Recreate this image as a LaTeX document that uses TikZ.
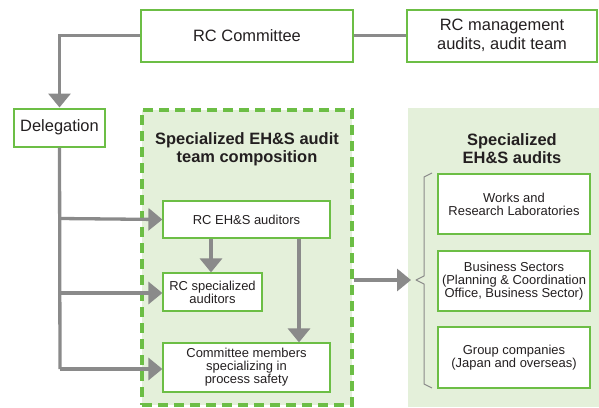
\documentclass[tikz,border=0pt]{standalone}
\usepackage{fontspec}
\setmainfont{Liberation Sans}
\usetikzlibrary{arrows.meta}
\definecolor{gbord}{RGB}{108,190,69}
\definecolor{gfill}{RGB}{228,240,218}
\definecolor{garr}{RGB}{138,138,138}
\definecolor{txt}{RGB}{35,31,32}
\tikzset{
  topbox/.style={draw=gbord, line width=2bp, fill=white, inner sep=0pt, align=center, text=txt,
    font=\fontsize{16.5}{19}\selectfont},
  inbox/.style={draw=gbord, line width=1.2bp, fill=white, inner sep=0pt, align=center, text=txt,
    font=\fontsize{13}{13}\selectfont},
  ttl/.style={align=center, text=txt, font=\fontsize{16.5}{18}\selectfont\bfseries},
  arr/.style={draw=garr, line width=3.3bp, -{Triangle[length=14bp,width=22bp]}},
  ln/.style={draw=garr, line width=3.3bp},
}
\begin{document}
\begin{tikzpicture}[x=1bp,y=-1bp]
\useasboundingbox (0,0) rectangle (599,407);
% right green area
\fill[gfill] (408,108) rectangle (599,407);
% dashed composition area
\node[draw=gbord, fill=gfill, line width=3.3bp, dash pattern=on 10bp off 6bp, minimum width=210bp, minimum height=295bp, inner sep=0pt] (comp) at (247,257.5) {};
% top boxes
\node[topbox, minimum width=212bp, minimum height=52bp] (rcc) at (247,35.5) {RC Committee};
\node[topbox, minimum width=190bp, minimum height=52bp] (rcm) at (502,35.5) {RC management\\audits, audit team};
\node[topbox, minimum width=91bp, minimum height=38bp] (del) at (59.5,127.5) {Delegation};
% titles
\node[ttl] (t1) at (247,149) {Specialized EH\&S audit\\team composition};
\node[ttl] (t2) at (512,149) {Specialized\\EH\&S audits};
% inner boxes
\node[inbox, minimum width=167bp, minimum height=37bp] (ehs) at (246.5,219.5) {RC EH\&S auditors};
\node[inbox, minimum width=99bp, minimum height=38bp] (spec) at (212.5,292) {RC specialized\\auditors};
\node[inbox, minimum width=167bp, minimum height=49bp] (cm) at (246.5,367.5) {Committee members\\specializing in\\process safety};
% right boxes
\node[inbox, minimum width=152bp, minimum height=60bp] (wk) at (514,204) {Works and\\Research Laboratories};
\node[inbox, minimum width=152bp, minimum height=60bp] (bs) at (514,281) {Business Sectors\\(Planning \& Coordination\\Office, Business Sector)};
\node[inbox, minimum width=152bp, minimum height=61bp] (gc) at (514,357.5) {Group companies\\(Japan and overseas)};
% connectors
\draw[draw=garr, line width=2.2bp] (rcc.east) -- (rcm.west);
\draw[arr] (rcc.west) -| (del.north);
\coordinate (j3) at (60,369);
\draw[ln] (del.south) -- (j3);
\draw[arr] (60,218.5) -- (ehs.west);
\draw[arr] (60,293) -- (spec.west |- 0,293);
\draw[arr] (j3) -- (cm.west |- j3);
\draw[arr] (ehs.south -| 211,0) -- (spec.north -| 211,0);
\draw[arr] (ehs.south -| 299,0) -- (cm.north -| 299,0);
\coordinate (btip) at (411,280);
\draw[arr] (comp.east |- btip) -- (btip);
% brace
\draw[garr, line width=1bp, line join=round] (432,173) -- (424,177) -- (424,276) -- (416,280) -- (424,284) -- (424,384) -- (432,388);
\end{tikzpicture}
\end{document}
